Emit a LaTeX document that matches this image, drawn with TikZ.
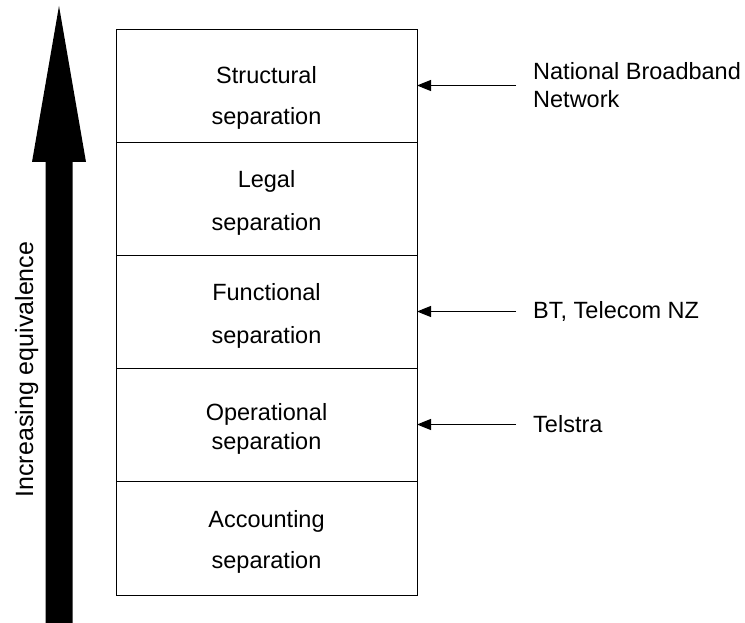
\documentclass[tikz,border=0pt]{standalone}
\usepackage{fontspec}
\setmainfont{Liberation Sans}
\usetikzlibrary{arrows.meta,positioning}

\begin{document}
\begin{tikzpicture}[x=1pt,y=-1pt,
    layer/.style={draw, line width=0.9pt, minimum width=301pt, minimum height=113pt,
      inner sep=0pt, outer sep=0pt},
    caption/.style={align=center, inner sep=0pt, font=\fontsize{23.5pt}{28.2pt}\selectfont},
    tag/.style={align=left, inner sep=0pt, font=\fontsize{23.5pt}{28.2pt}\selectfont},
    pointer/.style={line width=0.9pt, -{Triangle[length=14pt,width=11pt]}, shorten <=17pt}]
      \useasboundingbox (0,0) rectangle (745,623);
      % big arrow on the left
      \fill (45.5,623) -- (45.5,162) -- (32,162) -- (59,6) -- (86,162) -- (72.5,162) -- (72.5,623) -- cycle;
      \node[rotate=90, anchor=base, inner sep=0pt, font=\fontsize{25pt}{30pt}\selectfont] (axis) at (33,369.5)
        {Increasing equivalence};
      % stack of separations
      \node[layer] (structural) at (266.5,85.5) {};
      \node[layer, below=0pt of structural] (legal) {};
      \node[layer, below=0pt of legal] (functional) {};
      \node[layer, below=0pt of functional] (operational) {};
      \node[layer, below=0pt of operational, minimum height=114pt] (accounting) {};
      \node[caption, yshift=-12pt] (structuraltext) at (structural) {Structural\\[12.8pt]separation};
      \node[caption, yshift=-4pt] (legaltext) at (legal) {Legal\\[14.8pt]separation};
      \node[caption, yshift=-4pt] (functionaltext) at (functional) {Functional\\[14.8pt]separation};
      \node[caption, yshift=-4pt] (operationaltext) at (operational) {Operational\\[0.8pt]separation};
      \node[caption, yshift=-3.5pt] (accountingtext) at (accounting) {Accounting\\[12.8pt]separation};
      % examples
      \node[tag, right=116pt of structural] (nbn) {National Broadband\\Network};
      \node[tag, right=116pt of functional] (bt) {BT, Telecom NZ};
      \node[tag, right=116pt of operational] (telstra) {Telstra};
      \draw[pointer] (nbn) -- (structural);
      \draw[pointer] (bt) -- (functional);
      \draw[pointer] (telstra) -- (operational);
\end{tikzpicture}
\end{document}
